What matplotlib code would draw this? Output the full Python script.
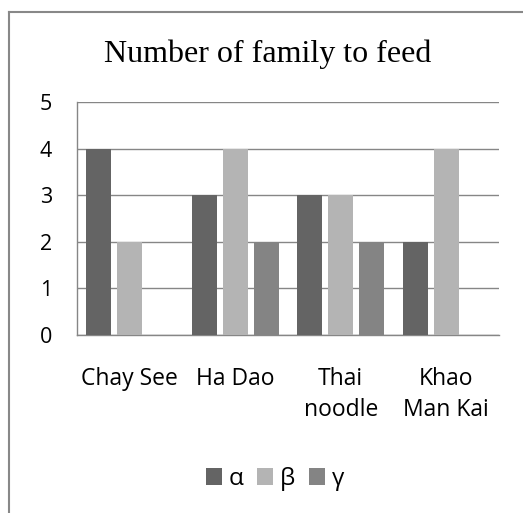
import numpy as np
from matplotlib import pyplot as plt
from matplotlib.lines import Line2D
from matplotlib.patches import Patch

categories = ['Chay See', 'Ha Dao', 'Thai\nnoodle', 'Khao\nMan Kai']
series_names = ['α', 'β', 'γ']
alpha_vals = [4, 3, 3, 2]
beta_vals = [2, 4, 3, 4]
gamma_vals = [0, 2, 2, 0]
y_ticks = [0, 1, 2, 3, 4, 5]

colors = ['#646464', '#b4b4b4', '#848484']
grid_col = '#868686'

W, H = 523, 513
fig = plt.figure(figsize=(W / 100, H / 100), dpi=100)
ax = fig.add_axes([77 / W, 1 - 335 / H, (499 - 77) / W, (335 - 102) / H])

x = np.arange(len(categories))
step = 0.294
width = 0.237
for i, vals in enumerate([alpha_vals, beta_vals, gamma_vals]):
    ax.bar(x + (i - 1) * step, vals, width, color=colors[i], zorder=3,
           label=series_names[i])

ax.set_xlim(-0.5, len(categories) - 0.5)
ax.set_ylim(0, 5)
ax.set_yticks(y_ticks)
ax.set_xticks(x)
ax.set_xticklabels(categories, linespacing=1.4)
ax.grid(axis='y', color=grid_col, linewidth=1.0, zorder=0)
for s in ['top', 'right']:
    ax.spines[s].set_visible(False)
for s in ['left', 'bottom']:
    ax.spines[s].set_color(grid_col)
    ax.spines[s].set_linewidth(1.0)

ax.tick_params(axis='y', length=0, pad=18, labelsize=15.5)
ax.tick_params(axis='x', length=0, pad=23, labelsize=16.5)
for lab in ax.get_xticklabels() + ax.get_yticklabels():
    lab.set_fontfamily('Open Sans')
    lab.set_color('black')

fig.text(268 / W, 1 - 62 / H, 'Number of family to feed', ha='center',
         va='baseline', fontsize=23, family='Liberation Serif')

handles = [Patch(facecolor=c) for c in colors]
fig.legend(handles, series_names, loc='center', bbox_to_anchor=(275 / W, 1 - 479 / H),
           ncol=3, frameon=False, handlelength=0.65, handleheight=0.65,
           handletextpad=0.3, columnspacing=0.55,
           prop={'family': 'Open Sans', 'size': 17.5})

# outer chart frame (runs off the right and bottom edges)
fig.add_artist(Line2D([8.5 / W, 8.5 / W], [0, 1 - 12 / H], color='#888888',
                      linewidth=1.5, transform=fig.transFigure))
fig.add_artist(Line2D([8.5 / W, 1], [1 - 12 / H, 1 - 12 / H], color='#888888',
                      linewidth=1.5, transform=fig.transFigure))

fig.savefig('out.png', dpi=100)
